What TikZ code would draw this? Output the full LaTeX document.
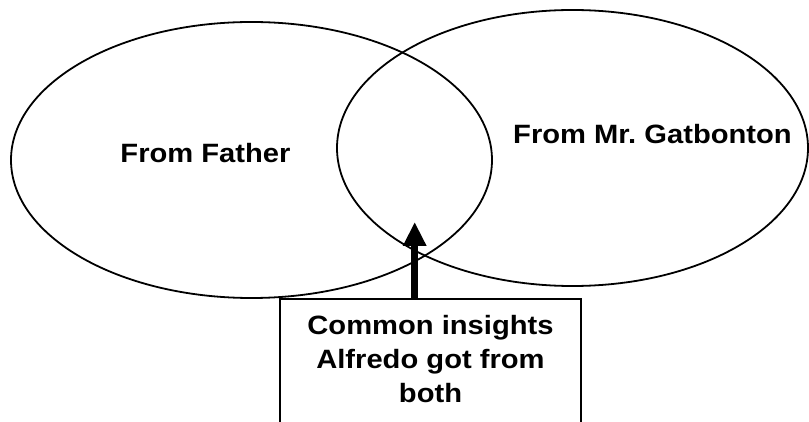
\documentclass[tikz,border=0pt]{standalone}
\usepackage{fontspec}
\usetikzlibrary{shapes.geometric,arrows.meta}
\newfontfamily\arialb{Liberation Sans}[FakeStretch=1.1]
\begin{document}
\begin{tikzpicture}[x=1pt,y=-1pt,
  venn/.style={ellipse,draw=black,line width=1.8pt,inner sep=0pt},
  lbl/.style={inner sep=0pt,font=\arialb\bfseries\fontsize{26.5}{34}\selectfont,align=center},
  boxst/.style={draw=black,line width=1.6pt,inner sep=0pt,minimum width=301pt,minimum height=150pt,anchor=north}]
\useasboundingbox (0,0) rectangle (809,422);
\clip (0,0) rectangle (809,422);
\node[venn,minimum width=481pt,minimum height=276pt] (father) at (251.5,160) {};
\node[venn,minimum width=471pt,minimum height=276pt] (gat) at (572.5,148) {};
\node[boxst] (box) at (430.5,298) {};
\node[lbl] (tfather) at (205.5,153) {From Father};
\node[lbl] (tgat) at (652.5,134.5) {From Mr.\ Gatbonton};
\node[lbl] (tbox) at (430.5,359) {Common insights\\Alfredo got from\\both};
\coordinate (tip) at (414.7,222);
\draw[line width=7pt,-{Triangle[width=22pt,length=24pt]}] (box.north -| tip) -- (tip);
\end{tikzpicture}
\end{document}
